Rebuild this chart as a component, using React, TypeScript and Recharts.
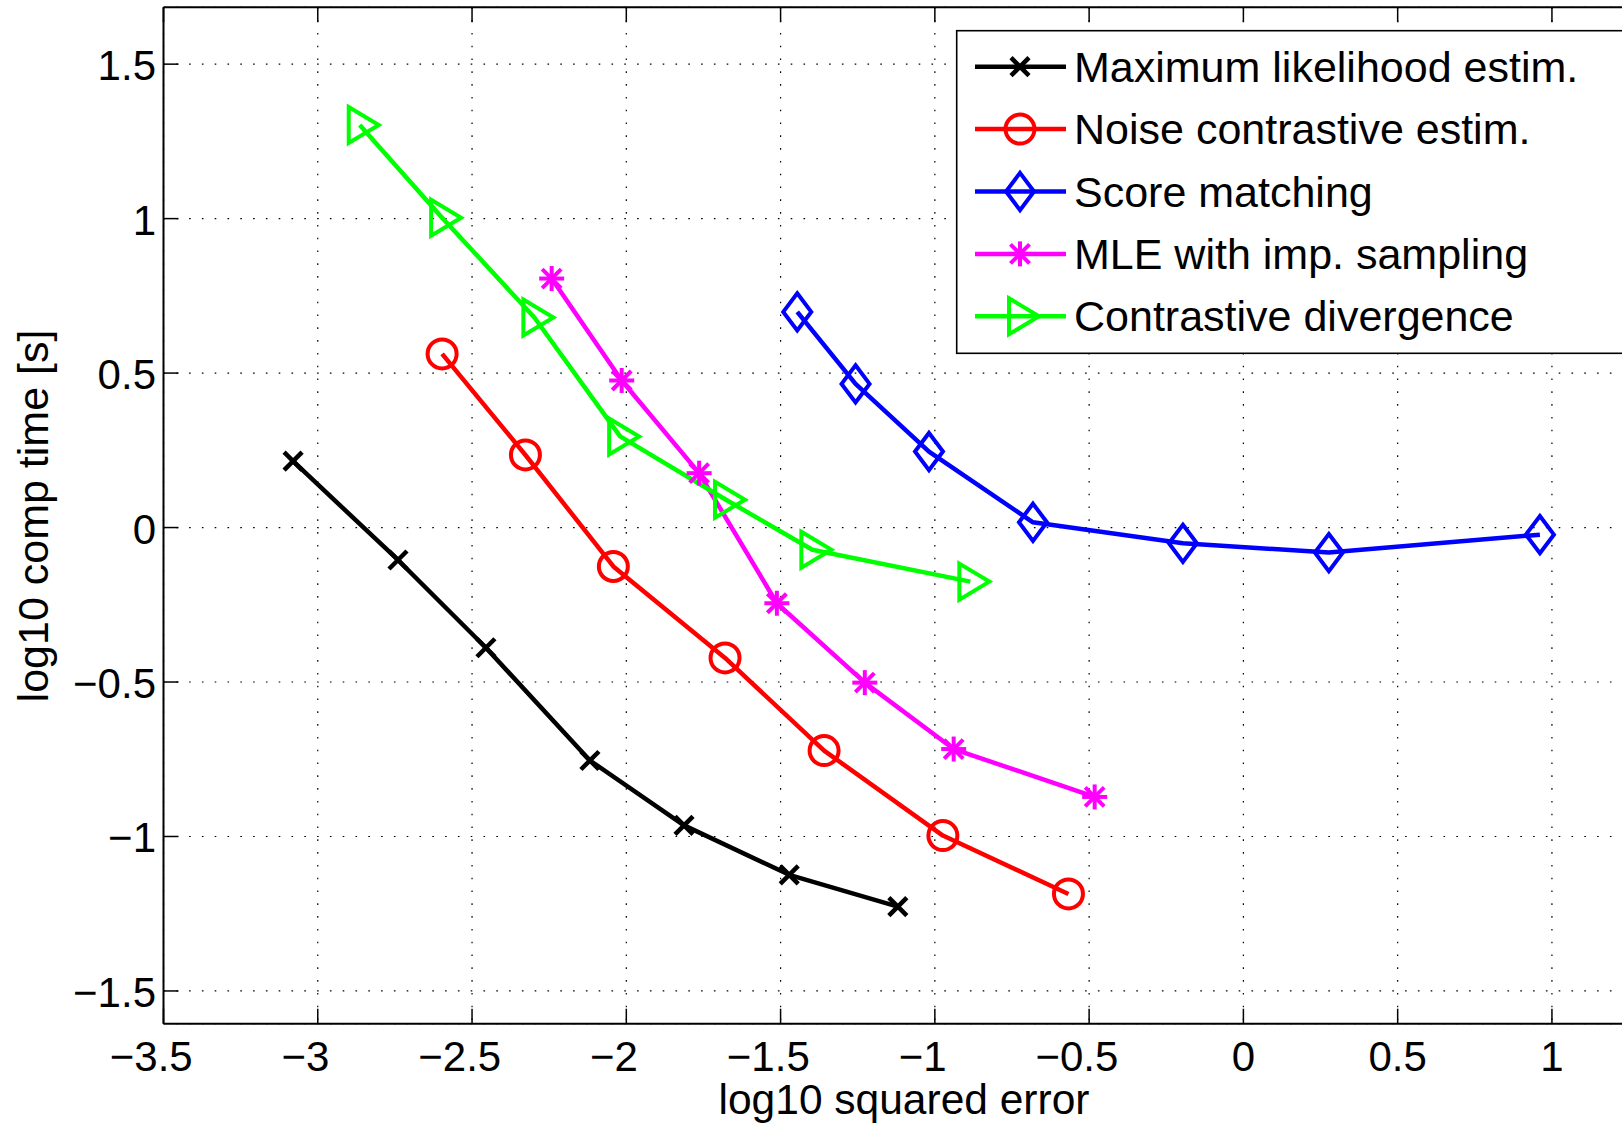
import React from "react";
import {
  LineChart,
  Line,
  XAxis,
  YAxis,
  CartesianGrid,
  ReferenceLine,
} from "recharts";

// axis ticks
const xTicks = [-3.5, -3, -2.5, -2, -1.5, -1, -0.5, 0, 0.5, 1];
const yTicks = [-1.5, -1, -0.5, 0, 0.5, 1, 1.5];

// Maximum likelihood estim.
const mleX = [-3.08, -2.74, -2.455, -2.118, -1.813, -1.472, -1.12];
const mleY = [0.215, -0.105, -0.389, -0.754, -0.964, -1.124, -1.227];
// Noise contrastive estim.
const nceX = [-2.597, -2.327, -2.042, -1.68, -1.359, -0.974, -0.567];
const nceY = [0.562, 0.235, -0.126, -0.422, -0.722, -0.997, -1.186];
// Score matching
const smX = [-1.446, -1.257, -1.019, -0.682, -0.196, 0.277, 0.961];
const smY = [0.698, 0.465, 0.246, 0.017, -0.051, -0.081, -0.023];
// MLE with imp. sampling
const impX = [-2.242, -2.015, -1.764, -1.512, -1.227, -0.939, -0.482];
const impY = [0.806, 0.476, 0.176, -0.245, -0.502, -0.717, -0.872];
// Contrastive divergence
const cdX = [-2.864, -2.597, -2.298, -2.02, -1.677, -1.397, -0.885];
const cdY = [1.303, 1.003, 0.68, 0.295, 0.09, -0.072, -0.175];

const seriesNames = [
  "Maximum likelihood estim.",
  "Noise contrastive estim.",
  "Score matching",
  "MLE with imp. sampling",
  "Contrastive divergence",
];

const FONT = '"Liberation Sans", Arial, Helvetica, sans-serif';

const CHART_W = 1680;
const CHART_H = 1127;
const PLOT_L = 163.5;
const PLOT_T = 7.3;
const PLOT_R = 1644.5;
const PLOT_B = 1023.7;
const X_DOMAIN: [number, number] = [-3.5, 1.3];
const Y_DOMAIN: [number, number] = [-1.606, 1.684];

type Kind = "x" | "o" | "d" | "*" | ">";

const zip = (xs: number[], ys: number[]) => xs.map((x, i) => ({ x, y: ys[i] }));

const series = [
  { name: seriesNames[0], color: "#000000", kind: "x" as Kind, data: zip(mleX, mleY) },
  { name: seriesNames[1], color: "#ff0000", kind: "o" as Kind, data: zip(nceX, nceY) },
  { name: seriesNames[2], color: "#0000ff", kind: "d" as Kind, data: zip(smX, smY) },
  { name: seriesNames[3], color: "#ff00ff", kind: "*" as Kind, data: zip(impX, impY) },
  { name: seriesNames[4], color: "#00ff00", kind: ">" as Kind, data: zip(cdX, cdY) },
];

function Marker({ kind, cx, cy, color }: { kind: Kind; cx: number; cy: number; color: string }) {
  const sw = 4;
  if (kind === "x") {
    const a = 9;
    return (
      <g stroke={color} strokeWidth={4.5}>
        <line x1={cx - a} y1={cy - a} x2={cx + a} y2={cy + a} />
        <line x1={cx - a} y1={cy + a} x2={cx + a} y2={cy - a} />
      </g>
    );
  }
  if (kind === "o") {
    return <circle cx={cx} cy={cy} r={14.5} fill="none" stroke={color} strokeWidth={sw} />;
  }
  if (kind === "d") {
    const pts = `${cx},${cy - 18.6} ${cx + 14},${cy} ${cx},${cy + 18.6} ${cx - 14},${cy}`;
    return <polygon points={pts} fill="none" stroke={color} strokeWidth={sw} />;
  }
  if (kind === "*") {
    const p = 12.5;
    const q = 9.5;
    return (
      <g stroke={color} strokeWidth={sw}>
        <line x1={cx - p} y1={cy} x2={cx + p} y2={cy} />
        <line x1={cx} y1={cy - p} x2={cx} y2={cy + p} />
        <line x1={cx - q} y1={cy - q} x2={cx + q} y2={cy + q} />
        <line x1={cx - q} y1={cy + q} x2={cx + q} y2={cy - q} />
      </g>
    );
  }
  const pts = `${cx - 11},${cy - 18} ${cx + 19},${cy} ${cx - 11},${cy + 18}`;
  return <polygon points={pts} fill="none" stroke={color} strokeWidth={sw} />;
}

const fmt = (v: number) => String(Math.abs(v));
const numWidth = (s: string, fs: number) =>
  s.split("").reduce((w, c) => w + (c === "." ? 0.278 : 0.556) * fs, 0);

// MATLAB centres the digits on the tick; the minus sign hangs off to the left
function XTick(props: any) {
  const { x, payload } = props;
  const v = payload.value as number;
  const s = fmt(v);
  const fs = 42;
  const w = numWidth(s, fs);
  return (
    <g>
      <line x1={x} x2={x} y1={PLOT_B} y2={PLOT_B - 15} stroke="#000" strokeWidth={1.5} />
      <line x1={x} x2={x} y1={PLOT_T} y2={PLOT_T + 15} stroke="#000" strokeWidth={1.5} />
      <text x={x + w / 2} y={1070.5} textAnchor="end" fontSize={fs} fontFamily={FONT} fill="#000">
        {(v < 0 ? "\u2212" : "") + s}
      </text>
    </g>
  );
}

function YTick(props: any) {
  const { y, payload } = props;
  const v = payload.value as number;
  const label = (v < 0 ? "\u2212" : "") + fmt(v);
  return (
    <g>
      <line x1={PLOT_L} x2={PLOT_L + 15} y1={y} y2={y} stroke="#000" strokeWidth={1.5} />
      <line x1={PLOT_R} x2={PLOT_R - 15} y1={y} y2={y} stroke="#000" strokeWidth={1.5} />
      <text x={156} y={y + 16} textAnchor="end" fontSize={42} fontFamily={FONT} fill="#000">
        {label}
      </text>
    </g>
  );
}

function LegendBox() {
  const left = 956.7;
  const top = 30.7;
  const bottom = 353.3;
  const row0 = 66.7;
  const step = 62.4;
  return (
    <svg
      width={1622}
      height={1127}
      style={{ position: "absolute", left: 0, top: 0, pointerEvents: "none" }}
    >
      <rect x={left} y={top} width={1623.5 - left} height={bottom - top} fill="#fff" stroke="#000" strokeWidth={1.6} />
      {series.map((s, i) => {
        const cy = row0 + i * step;
        return (
          <g key={s.name}>
            <line x1={975} x2={1066} y1={cy} y2={cy} stroke={s.color} strokeWidth={4.5} />
            <Marker kind={s.kind} cx={1020} cy={cy} color={s.color} />
            <text x={1074} y={cy + 15} fontSize={43} fontFamily={FONT} fill="#000">
              {s.name}
            </text>
          </g>
        );
      })}
    </svg>
  );
}

export default function App() {
  return (
    <div
      style={{
        position: "absolute",
        left: 0,
        top: 0,
        width: 1622,
        height: 1127,
        overflow: "hidden",
        background: "#fff",
      }}
    >
      <LineChart
        width={CHART_W}
        height={CHART_H}
        margin={{ top: PLOT_T, right: CHART_W - PLOT_R, left: 0, bottom: 0 }}
      >
        <CartesianGrid stroke="#000" strokeWidth={1.2} strokeDasharray="1.6 11.2" />
        <XAxis
          type="number"
          dataKey="x"
          domain={X_DOMAIN}
          ticks={xTicks}
          interval={0}
          allowDataOverflow
          height={CHART_H - PLOT_B}
          axisLine={{ stroke: "#000", strokeWidth: 2 }}
          tickLine={false}
          tick={<XTick />}
        />
        <YAxis
          type="number"
          dataKey="y"
          domain={Y_DOMAIN}
          ticks={yTicks}
          interval={0}
          allowDataOverflow
          width={PLOT_L}
          axisLine={{ stroke: "#000", strokeWidth: 2 }}
          tickLine={false}
          tick={<YTick />}
        />
        <ReferenceLine y={Y_DOMAIN[1]} stroke="#000" strokeWidth={2} />
        <ReferenceLine x={X_DOMAIN[1]} stroke="#000" strokeWidth={2} />
        {series.map((s) => (
          <Line
            key={s.name}
            data={s.data}
            dataKey="y"
            name={s.name}
            type="linear"
            stroke={s.color}
            strokeWidth={4.5}
            strokeLinejoin="round"
            activeDot={false}
            isAnimationActive={false}
            dot={(p: any) => (
              <Marker key={`${s.name}-${p.index}`} kind={s.kind} cx={p.cx} cy={p.cy} color={s.color} />
            )}
          />
        ))}
      </LineChart>
      <LegendBox />
      <svg
        width={1622}
        height={1127}
        style={{ position: "absolute", left: 0, top: 0, pointerEvents: "none" }}
      >
        <text x={904} y={1114} textAnchor="middle" fontSize={42.5} fontFamily={FONT} fill="#000">
          log10 squared error
        </text>
        <text
          x={48}
          y={516}
          textAnchor="middle"
          fontSize={43}
          fontFamily={FONT}
          fill="#000"
          transform="rotate(-90 48 516)"
        >
          log10 comp time [s]
        </text>
      </svg>
    </div>
  );
}
